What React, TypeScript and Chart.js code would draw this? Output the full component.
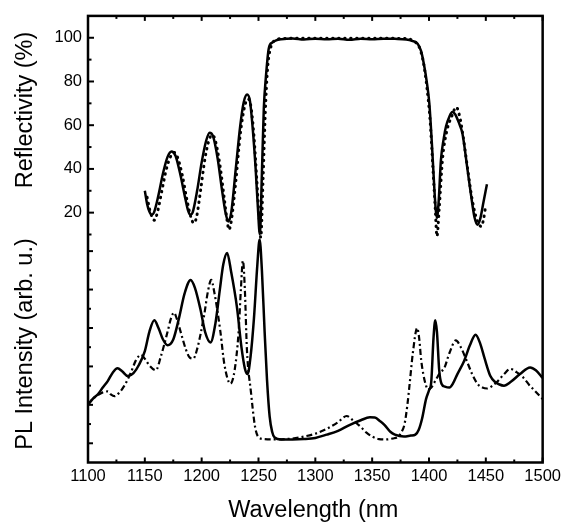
import { useEffect, useRef } from "react";
import { Chart, registerables } from "chart.js";
Chart.register(...registerables);

// Reflectivity, measured (solid)
const reflMeasWl = [1150, 1152, 1154, 1156, 1158, 1162, 1166, 1170, 1173.5, 1177, 1181, 1185, 1188, 1190, 1192, 1196, 1200, 1204, 1207, 1210, 1214, 1218, 1221, 1223.5, 1226, 1230, 1234, 1237, 1240, 1242.5, 1245, 1247.5, 1249.5, 1251.2, 1253, 1254.7, 1256.5, 1259, 1262, 1265, 1270, 1280, 1290, 1300, 1310, 1320, 1330, 1340, 1350, 1360, 1370, 1380, 1385, 1390, 1393, 1395.5, 1398, 1400.3, 1402.4, 1404.6, 1406, 1407, 1408.5, 1410.5, 1413, 1415, 1418, 1420.5, 1423, 1426, 1429.5, 1433.8, 1437, 1440, 1442.6, 1445, 1448, 1451];
const reflMeasVal = [30, 24, 20.5, 19, 20, 28, 38, 45.5, 48, 46, 38, 28, 21, 19, 20, 30, 43, 53, 56.6, 55, 45, 30, 20, 16, 20, 40, 60, 70.5, 74, 71, 58, 40, 22, 10, 38, 68, 82, 95, 97.8, 98.7, 99.3, 99.7, 99.2, 99.6, 99.3, 99.6, 99.1, 99.6, 99.3, 99.6, 99.5, 99.2, 98.6, 97.3, 94, 88, 80, 70, 53, 32, 21, 17.6, 25, 44, 54, 59.5, 64, 66, 65, 61.5, 56, 40, 28, 18, 14.5, 17, 25, 33];

// Reflectivity, simulated (dotted)
const reflSimWl = [1152, 1155, 1158.5, 1161, 1165, 1169, 1173, 1176, 1179, 1183, 1187, 1190.5, 1193, 1195.5, 1199, 1203, 1207, 1209.5, 1212, 1216, 1220, 1222.5, 1224, 1226, 1230, 1234, 1238, 1241, 1243.5, 1246, 1248.5, 1250.5, 1252, 1254, 1256, 1258, 1261, 1265, 1270, 1300, 1350, 1380, 1385, 1389, 1392, 1395, 1398, 1401, 1403.5, 1405.5, 1407, 1409, 1412, 1416, 1420, 1424, 1427, 1430, 1434, 1438, 1442, 1446, 1448, 1450];
const reflSimVal = [27, 20, 16.5, 20, 30, 40, 46, 47.5, 45, 37, 26, 18, 15.2, 18, 30, 45, 54, 55.5, 53, 42, 26, 16, 12.2, 16, 34, 56, 69, 72, 68, 55, 35, 18, 8.6, 35, 66, 86, 96, 98.8, 99.6, 99.8, 99.8, 99.6, 99, 97.5, 95, 89, 78, 62, 40, 22, 9.2, 22, 45, 58, 64, 68.3, 64, 55, 40, 26, 17, 13.7, 17, 23.5];

// PL intensity, measured (solid)
const plMeasWl = [1100, 1104, 1108.7, 1113, 1117.5, 1122, 1126, 1130, 1135, 1140, 1145, 1150, 1154, 1158.3, 1162, 1166, 1170, 1175, 1180, 1185, 1190.3, 1194, 1199, 1203, 1207.8, 1212, 1216, 1219, 1222.4, 1226, 1231, 1235, 1238, 1240.4, 1243, 1246, 1249, 1251, 1253, 1255.4, 1257.5, 1259.8, 1262, 1264.2, 1270, 1280, 1290, 1300, 1310, 1320, 1330, 1340, 1348, 1352.3, 1357, 1361, 1366, 1370, 1378, 1384, 1388, 1391, 1394, 1397.4, 1400, 1402, 1404, 1405.5, 1407, 1409, 1411, 1414, 1418, 1421, 1425, 1431, 1436, 1441, 1445, 1449, 1454, 1458, 1466, 1472, 1480, 1489, 1494, 1500];
const plMeasVal = [3.0, 3.3, 3.55, 3.9, 4.25, 4.7, 4.9, 4.75, 4.5, 4.65, 5.1, 5.8, 6.8, 7.4, 7.0, 6.4, 6.1, 6.4, 7.5, 8.8, 9.5, 9.1, 7.95, 6.8, 6.25, 7.2, 9.0, 10.3, 10.9, 9.9, 8.1, 6.0, 4.9, 4.6, 5.5, 7.5, 10.3, 11.6, 10, 6.8, 4.3, 2.4, 1.6, 1.3, 1.2, 1.2, 1.22, 1.28, 1.45, 1.65, 1.95, 2.2, 2.35, 2.34, 2.15, 1.95, 1.6, 1.45, 1.35, 1.4, 1.45, 1.7, 2.3, 3.3, 3.75, 4.2, 6.5, 7.4, 6.8, 4.8, 4.1, 3.95, 3.9, 4.1, 4.6, 5.3, 6.1, 6.65, 6.2, 5.4, 4.5, 4.2, 4.0, 4.2, 4.6, 4.95, 4.8, 4.4];

// PL intensity, simulated (dashed)
const plSimWl = [1100, 1104, 1108.7, 1113, 1117.5, 1120, 1123.3, 1127, 1132, 1137.9, 1142, 1146.6, 1150, 1154, 1159.7, 1164, 1170, 1173, 1175.7, 1178, 1181.5, 1186, 1189, 1192.6, 1196, 1202, 1205.5, 1208.4, 1211, 1216.5, 1220, 1225.3, 1229, 1232.5, 1234.5, 1236.3, 1238, 1239.8, 1243.3, 1247, 1250.3, 1255, 1265, 1280, 1290, 1300, 1310, 1320, 1327.5, 1333, 1340, 1345, 1350, 1356, 1362, 1368, 1373, 1376, 1378.5, 1381, 1383, 1385.8, 1389.6, 1391.5, 1393, 1395, 1397.4, 1399, 1402, 1406, 1410, 1413.4, 1418, 1423.6, 1428, 1433.8, 1438, 1442.6, 1447, 1451.3, 1456, 1460, 1466, 1471.7, 1477, 1483.3, 1488, 1492, 1496, 1500];
const plSimVal = [3.0, 3.3, 3.5, 3.65, 3.7, 3.55, 3.45, 3.6, 4.0, 4.7, 5.3, 5.6, 5.4, 5.05, 4.8, 5.5, 6.8, 7.5, 7.8, 7.5, 6.8, 5.9, 5.5, 5.4, 5.9, 7.6, 8.9, 9.5, 8.9, 6.8, 5.1, 4.1, 4.8, 6.8, 9.0, 10.5, 9.0, 5.9, 3.7, 1.85, 1.3, 1.22, 1.2, 1.25, 1.35, 1.5, 1.75, 2.1, 2.42, 2.2, 1.85, 1.55, 1.35, 1.22, 1.2, 1.25, 1.35, 1.6, 2.0, 3.0, 4.1, 5.7, 7.0, 6.4, 5.4, 4.6, 4.0, 3.8, 3.9, 4.3, 4.7, 4.9, 5.7, 6.35, 6.0, 5.2, 4.6, 4.1, 3.9, 3.85, 4.0, 4.2, 4.6, 4.87, 4.7, 4.4, 4.05, 3.8, 3.55, 3.3];

// Axis ticks
const xTickLabels = [1100, 1150, 1200, 1250, 1300, 1350, 1400, 1450, 1500];
const xMinorTicks = [1125, 1175, 1225, 1275, 1325, 1375, 1425, 1475];
const reflTickLabels = [20, 40, 60, 80, 100];
const reflMinorTicks = [10, 30, 50, 70, 90];
const plMajorTicks = [1, 3, 5, 7, 9, 11];
const plMinorTicks = [2, 4, 6, 8, 10];

const FONT = "'Liberation Sans', Arial, Helvetica, sans-serif";

const pts = (xs: number[], ys: number[]) => xs.map((x, i) => ({ x, y: ys[i] }));

const framePlugin = {
  id: "frameTicks",
  afterDraw(chart: any) {
    const { ctx, chartArea: a, scales } = chart;
    const x = scales.x, y = scales.y, y2 = scales.y2;
    ctx.save();
    ctx.strokeStyle = "#000";
    ctx.lineWidth = 2;
    ctx.lineCap = "butt";
    const seg = (x1: number, y1: number, x2: number, y2p: number) => {
      ctx.beginPath(); ctx.moveTo(x1, y1); ctx.lineTo(x2, y2p); ctx.stroke();
    };
    xTickLabels.forEach((v) => {
      const px = x.getPixelForValue(v);
      seg(px, a.bottom, px, a.bottom - 5);
      seg(px, a.top, px, a.top + 5);
    });
    xMinorTicks.forEach((v) => {
      const px = x.getPixelForValue(v);
      seg(px, a.bottom, px, a.bottom - 3);
      seg(px, a.top, px, a.top + 3);
    });
    reflTickLabels.forEach((v) => { const py = y.getPixelForValue(v); seg(a.left, py, a.left + 6, py); });
    reflMinorTicks.forEach((v) => { const py = y.getPixelForValue(v); seg(a.left, py, a.left + 3.5, py); });
    plMajorTicks.forEach((v) => { const py = y2.getPixelForValue(v); seg(a.left, py, a.left + 5, py); });
    plMinorTicks.forEach((v) => { const py = y2.getPixelForValue(v); seg(a.left, py, a.left + 3, py); });
    ctx.lineWidth = 2.5;
    ctx.strokeRect(a.left, a.top, a.right - a.left, a.bottom - a.top);

    ctx.fillStyle = "#000";
    ctx.font = `23.5px ${FONT}`;
    ctx.textAlign = "center";
    ctx.textBaseline = "alphabetic";
    ctx.fillText("Wavelength (nm", (a.left + a.right) / 2 - 2, 517);
    const vt = (t: string, cy: number) => {
      ctx.save();
      ctx.translate(32, cy);
      ctx.rotate(-Math.PI / 2);
      ctx.fillText(t, 0, 0);
      ctx.restore();
    };
    vt("Reflectivity (%)", 110);
    vt("PL Intensity (arb. u.)", 344);
    ctx.restore();
  },
};

export default function App() {
  const ref = useRef<HTMLCanvasElement | null>(null);
  useEffect(() => {
    if (!ref.current) return;
    Chart.defaults.color = "#000";
    const chart = new Chart(ref.current, {
      type: "line",
      data: {
        datasets: [
          { label: "R meas", data: pts(reflMeasWl, reflMeasVal), yAxisID: "y", borderColor: "#000", borderWidth: 2.5, pointRadius: 0, cubicInterpolationMode: "monotone", fill: false },
          { label: "R sim", data: pts(reflSimWl, reflSimVal), yAxisID: "y", borderColor: "#000", borderWidth: 3, borderDash: [0.5, 5.5], borderCapStyle: "round", pointRadius: 0, cubicInterpolationMode: "monotone", fill: false },
          { label: "PL meas", data: pts(plMeasWl, plMeasVal), yAxisID: "y2", borderColor: "#000", borderWidth: 2.5, pointRadius: 0, cubicInterpolationMode: "monotone", fill: false },
          { label: "PL sim", data: pts(plSimWl, plSimVal), yAxisID: "y2", borderColor: "#000", borderWidth: 2.2, borderDash: [6, 3, 2, 3], pointRadius: 0, cubicInterpolationMode: "monotone", fill: false },
        ],
      },
      options: {
        animation: false,
        responsive: true,
        maintainAspectRatio: false,
        layout: { padding: { top: 7, right: 19, left: 0, bottom: 0 } },
        plugins: { legend: { display: false }, tooltip: { enabled: false } },
        scales: {
          x: {
            type: "linear",
            min: 1100,
            max: 1500,
            grid: { display: false, drawTicks: false },
            border: { display: false },
            ticks: { stepSize: 50, padding: 4, font: { family: FONT, size: 16.5 }, color: "#000", maxRotation: 0, callback: (v: any) => String(v) },
            afterBuildTicks: (s: any) => { s.ticks = xTickLabels.map((v) => ({ value: v })); },
            afterFit: (s: any) => { s.height = 59.5; },
          },
          y: {
            type: "linear",
            position: "left",
            min: -94.3,
            max: 110,
            grid: { display: false, drawTicks: false },
            border: { display: false },
            ticks: { padding: 6, font: { family: FONT, size: 16.5 }, color: "#000", callback: (v: any) => String(v) },
            afterBuildTicks: (s: any) => { s.ticks = reflTickLabels.map((v) => ({ value: v })); },
            afterFit: (s: any) => { s.width = 88; },
          },
          y2: {
            type: "linear",
            position: "left",
            display: false,
            min: 0,
            max: 23.24,
          },
        },
      },
      plugins: [framePlugin],
    } as any);
    return () => chart.destroy();
  }, []);
  return (
    <div style={{ position: "fixed", left: 0, top: 0, width: 565, height: 522, background: "#fff" }}>
      <canvas ref={ref} />
    </div>
  );
}
